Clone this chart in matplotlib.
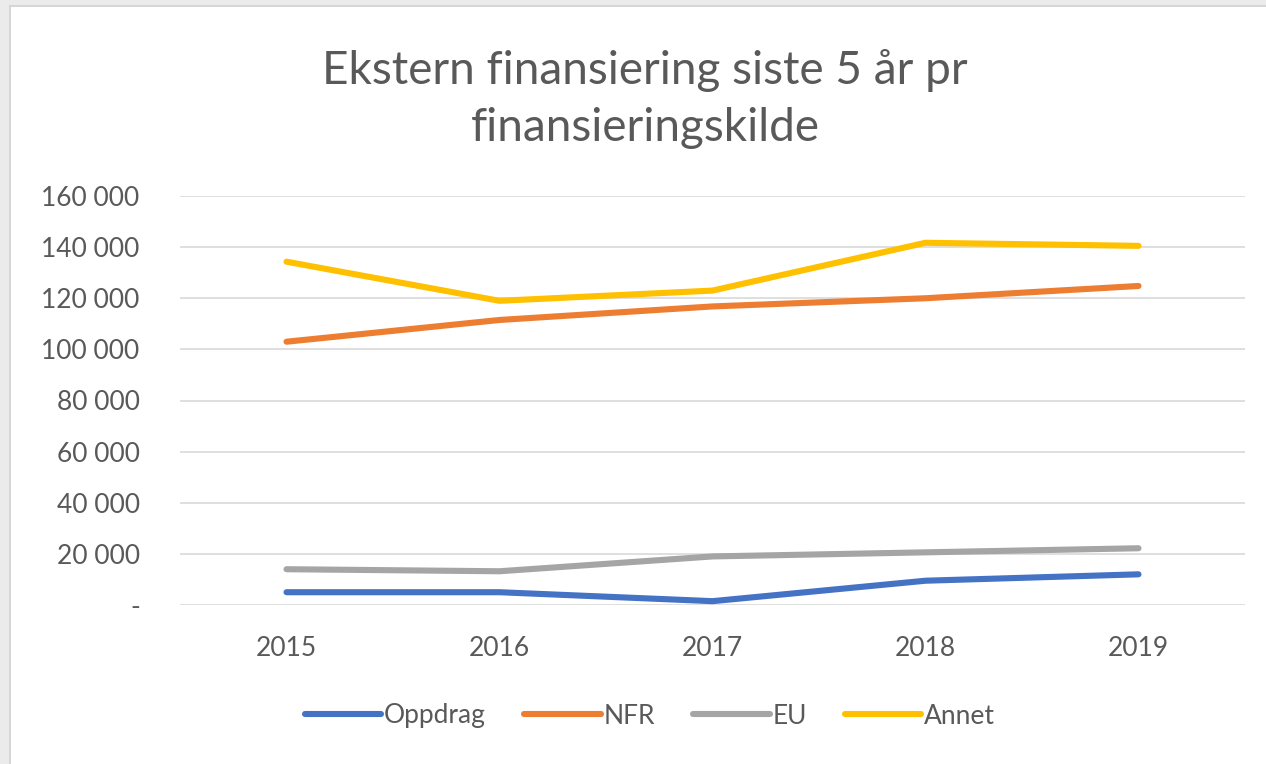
import matplotlib
matplotlib.use("Agg")
import matplotlib.pyplot as plt
from matplotlib.patches import Rectangle
from matplotlib.ticker import FuncFormatter

years = ["2015", "2016", "2017", "2018", "2019"]
oppdrag = [5000, 5000, 1500, 9500, 12000]
nfr = [103000, 111500, 116800, 120000, 124800]
eu = [14000, 13200, 19000, 20600, 22200]
annet = [134300, 119000, 123000, 141700, 140500]

series = [("Oppdrag", oppdrag, "#4472C4"),
          ("NFR", nfr, "#ED7D31"),
          ("EU", eu, "#A5A5A5"),
          ("Annet", annet, "#FFC000")]

plt.rcParams['font.family'] = ['Lato', 'DejaVu Sans']
txt = "#595959"

fig = plt.figure(figsize=(12.66, 7.64), dpi=100)
fig.patch.set_facecolor("white")
# screenshot frame
fig.add_artist(Rectangle((0, 0), 1, 1, transform=fig.transFigure, facecolor="#ebebeb", edgecolor="none", zorder=-3))
fig.add_artist(Rectangle((9/1266, 0), 1, 1 - 5/764, transform=fig.transFigure, facecolor="#d6d6d6", edgecolor="none", zorder=-2))
fig.add_artist(Rectangle((11/1266, 0), 1, 1 - 7/764, transform=fig.transFigure, facecolor="white", edgecolor="none", zorder=-1))

ax = fig.add_axes([180/1266, 1 - 605/764, 1065/1266, 409/764])
ax.set_facecolor("none")
x = list(range(len(years)))
for name, vals, col in series:
    ax.plot(x, vals, color=col, lw=4.4, label=name, solid_capstyle="round", solid_joinstyle="round", zorder=3)

ax.set_xlim(-0.5, len(years) - 0.5)
ax.set_ylim(0, 160000)
ax.set_yticks(range(0, 160001, 20000))
ax.yaxis.set_major_formatter(FuncFormatter(lambda v, p: "-" if v == 0 else f"{int(v):,}".replace(",", " ")))
ax.set_xticks(x)
ax.set_xticklabels(years)
ax.grid(axis="y", color="#d9d9d9", lw=1.2, zorder=0)
for s in ax.spines.values():
    s.set_visible(False)
ax.tick_params(axis="both", length=0, labelsize=19, colors=txt)
ax.tick_params(axis="y", pad=29)
ax.tick_params(axis="x", pad=22)

fig.text(645/1266, 1 - 99/764, "Ekstern finansiering siste 5 år pr\nfinansieringskilde",
         ha="center", va="center", fontsize=33, color=txt, linespacing=1.42)

leg = fig.legend(loc="center", bbox_to_anchor=(650/1266, 1 - 716/764), ncol=4, frameon=False,
                 fontsize=19, handlelength=2.9, handletextpad=0.1, columnspacing=1.45)
for t in leg.get_texts():
    t.set_color(txt)

fig.savefig("out.png", dpi=100)
